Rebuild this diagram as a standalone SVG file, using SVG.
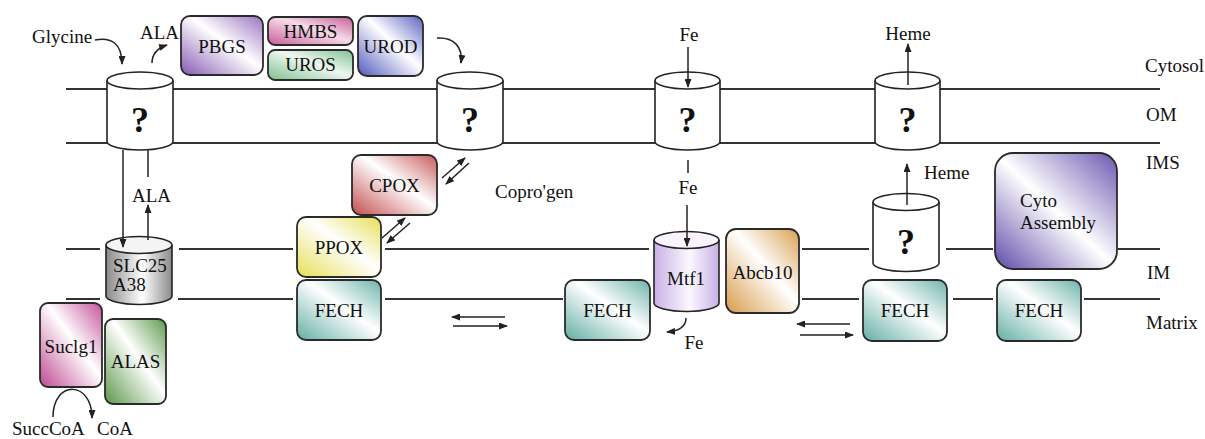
<svg xmlns="http://www.w3.org/2000/svg" width="1205" height="439" viewBox="0 0 1205 439">
<defs>
<style>
text{font-family:"Liberation Serif","Times New Roman",serif;font-size:19px;fill:#111}
.c{text-anchor:middle}
.q{font-size:36px;font-weight:bold;text-anchor:middle}
.mem{stroke:#333;stroke-width:2.2;fill:none}
.box{stroke:#2a2a2a;stroke-width:1.8}
.cyl{stroke:#222;stroke-width:1.6;fill:#fff}
.ln{stroke:#222;stroke-width:1.5;fill:none}
.ar{stroke:#222;stroke-width:1.5;fill:none;marker-end:url(#ah)}
</style>
<marker id="ah" markerUnits="userSpaceOnUse" markerWidth="9" markerHeight="7" refX="8" refY="3.5" orient="auto">
<path d="M0,0 L9,3.5 L0,7 z" fill="#222"/>
</marker>
<linearGradient id="gPur" x1="0" y1="1" x2="1" y2="0"><stop offset="0" stop-color="#8558b0"/><stop offset="0.55" stop-color="#fff"/><stop offset="1" stop-color="#9a72c0"/></linearGradient>
<linearGradient id="gPink" x1="0" y1="1" x2="1" y2="0"><stop offset="0" stop-color="#c65a96"/><stop offset="0.55" stop-color="#f5dbe8"/><stop offset="1" stop-color="#c65a96"/></linearGradient>
<linearGradient id="gLgreen" x1="0" y1="1" x2="1" y2="0"><stop offset="0" stop-color="#7dbf90"/><stop offset="0.55" stop-color="#eef7f0"/><stop offset="1" stop-color="#7dbf90"/></linearGradient>
<linearGradient id="gBlue" x1="0" y1="1" x2="1" y2="0"><stop offset="0" stop-color="#5058bd"/><stop offset="0.55" stop-color="#fff"/><stop offset="1" stop-color="#5a62c2"/></linearGradient>
<linearGradient id="gRed" x1="0" y1="1" x2="1" y2="0"><stop offset="0" stop-color="#c24a4c"/><stop offset="0.55" stop-color="#fff"/><stop offset="1" stop-color="#c65a5a"/></linearGradient>
<linearGradient id="gYel" x1="0" y1="1" x2="1" y2="0"><stop offset="0" stop-color="#e6df55"/><stop offset="0.55" stop-color="#fff"/><stop offset="1" stop-color="#e6df55"/></linearGradient>
<linearGradient id="gTeal" x1="0" y1="1" x2="1" y2="0"><stop offset="0" stop-color="#62aea4"/><stop offset="0.55" stop-color="#fff"/><stop offset="1" stop-color="#6cb4aa"/></linearGradient>
<linearGradient id="gOr" x1="0" y1="1" x2="1" y2="0"><stop offset="0" stop-color="#d89b48"/><stop offset="0.55" stop-color="#fff"/><stop offset="1" stop-color="#d9a050"/></linearGradient>
<linearGradient id="gCyto" x1="0" y1="1" x2="1" y2="0"><stop offset="0" stop-color="#5e4aa8"/><stop offset="0.5" stop-color="#fff"/><stop offset="1" stop-color="#6a56b0"/></linearGradient>
<linearGradient id="gMag" x1="0" y1="1" x2="1" y2="0"><stop offset="0" stop-color="#bf4892"/><stop offset="0.55" stop-color="#fff"/><stop offset="1" stop-color="#c4529a"/></linearGradient>
<linearGradient id="gGreen" x1="0" y1="1" x2="1" y2="0"><stop offset="0" stop-color="#5a9648"/><stop offset="0.55" stop-color="#fff"/><stop offset="1" stop-color="#5e9a4e"/></linearGradient>
<linearGradient id="gGray" x1="0" y1="0" x2="1" y2="0"><stop offset="0" stop-color="#8a8a8a"/><stop offset="0.55" stop-color="#fff"/><stop offset="1" stop-color="#8a8a8a"/></linearGradient>
<linearGradient id="gLav" x1="0" y1="0" x2="1" y2="0"><stop offset="0" stop-color="#c8b0e6"/><stop offset="0.55" stop-color="#fbf8fe"/><stop offset="1" stop-color="#c8b0e6"/></linearGradient>
</defs>
<rect width="1205" height="439" fill="#fff"/>

<g id="membranes">
<path class="mem" d="M66,89H107M173,89H437M503,89H655M720,89H875M940,89H1160"/>
<path class="mem" d="M66,143H107M173,143H437M503,143H655M720,143H875M940,143H1160"/>
<path class="mem" d="M66,249H100M179,249H293M385,249H649M802,249H869M946,249H993M1118,249H1160"/>
<path class="mem" d="M66,299H100M178,299H293M385,299H563M802,299H859M953,299H993M1084,299H1160"/>
</g>

<g id="compartment-labels">
<text x="1145" y="72">Cytosol</text>
<text x="1146" y="121">OM</text>
<text x="1146" y="169">IMS</text>
<text x="1147" y="279">IM</text>
<text x="1146" y="329">Matrix</text>
</g>

<g id="om-transporter-1">
<path class="cyl" d="M107,80.5V141.5A33,8.5 0 0 0 173,141.5V80.5"/>
<ellipse class="cyl" cx="140" cy="80.5" rx="33" ry="8.5"/>
<text class="q" x="140" y="132">?</text>
</g>
<g id="om-transporter-2">
<path class="cyl" d="M437,80.5V141.5A33,8.5 0 0 0 503,141.5V80.5"/>
<ellipse class="cyl" cx="470" cy="80.5" rx="33" ry="8.5"/>
<text class="q" x="470" y="132">?</text>
</g>
<g id="om-transporter-3">
<path class="cyl" d="M655,80.5V141.5A32.5,8.5 0 0 0 720,141.5V80.5"/>
<ellipse class="cyl" cx="687.5" cy="80.5" rx="32.5" ry="8.5"/>
<text class="q" x="687.5" y="132">?</text>
</g>
<g id="om-transporter-4">
<path class="cyl" d="M875,80.5V141.5A32.5,8.5 0 0 0 940,141.5V80.5"/>
<ellipse class="cyl" cx="907.5" cy="80.5" rx="32.5" ry="8.5"/>
<text class="q" x="907.5" y="132">?</text>
</g>
<g id="im-transporter">
<path class="cyl" d="M873,202V263A33,8.5 0 0 0 939,263V202"/>
<ellipse class="cyl" cx="906" cy="202" rx="33" ry="8.5"/>
<text class="q" x="906" y="254">?</text>
</g>
<g id="slc25a38">
<path class="cyl" style="fill:url(#gGray)" d="M106,245V296A33,8.5 0 0 0 172,296V245"/>
<ellipse class="cyl" cx="139" cy="245" rx="33" ry="8.5" style="fill:#f4f4f4"/>
<text x="113" y="272">SLC25</text>
<text x="113" y="291">A38</text>
</g>
<g id="mtf1">
<path class="cyl" style="fill:url(#gLav)" d="M654,240V303A32.5,8.5 0 0 0 719,303V240"/>
<ellipse class="cyl" cx="686.5" cy="240" rx="32.5" ry="8.5" style="fill:#f8f3fd"/>
<text class="c" x="686" y="285">Mtf1</text>
</g>

<g id="pbgs"><rect class="box" x="181" y="16" width="82" height="59" rx="9" fill="url(#gPur)"/><text class="c" x="222" y="53">PBGS</text></g>
<g id="hmbs"><rect class="box" x="268" y="17" width="85" height="28" rx="7" fill="url(#gPink)"/><text class="c" x="310.5" y="38">HMBS</text></g>
<g id="uros"><rect class="box" x="268" y="50" width="85" height="30" rx="7" fill="url(#gLgreen)"/><text class="c" x="310.5" y="71">UROS</text></g>
<g id="urod"><rect class="box" x="358" y="16" width="65" height="60" rx="9" fill="url(#gBlue)"/><text class="c" x="390.5" y="53">UROD</text></g>
<g id="cpox"><rect class="box" x="352" y="155" width="85" height="60" rx="9" fill="url(#gRed)"/><text class="c" x="394.5" y="192">CPOX</text></g>
<g id="ppox"><rect class="box" x="297" y="217" width="84" height="60" rx="9" fill="url(#gYel)"/><text class="c" x="339" y="254">PPOX</text></g>
<g id="fech-1"><rect class="box" x="297" y="280" width="84" height="60" rx="9" fill="url(#gTeal)"/><text class="c" x="339" y="317">FECH</text></g>
<g id="fech-2"><rect class="box" x="565" y="280" width="85" height="60" rx="9" fill="url(#gTeal)"/><text class="c" x="607.5" y="317">FECH</text></g>
<g id="abcb10"><rect class="box" x="726" y="229" width="73" height="84" rx="10" fill="url(#gOr)"/><text class="c" x="762.5" y="279">Abcb10</text></g>
<g id="fech-3"><rect class="box" x="863" y="280" width="84" height="61" rx="9" fill="url(#gTeal)"/><text class="c" x="905" y="317">FECH</text></g>
<g id="fech-4"><rect class="box" x="997" y="280" width="84" height="61" rx="9" fill="url(#gTeal)"/><text class="c" x="1039" y="317">FECH</text></g>
<g id="cyto-assembly"><rect class="box" x="995" y="153" width="122" height="116" rx="18" fill="url(#gCyto)"/><text x="1020" y="207">Cyto</text><text x="1020" y="229">Assembly</text></g>
<g id="suclg1"><rect class="box" x="40" y="303" width="62" height="84" rx="8" fill="url(#gMag)"/><text class="c" x="71" y="353">Suclg1</text></g>
<g id="alas"><rect class="box" x="105" y="319" width="61" height="85" rx="8" fill="url(#gGreen)"/><text class="c" x="135.5" y="368">ALAS</text></g>

<g id="metabolite-labels">
<text x="32" y="43">Glycine</text>
<text x="140" y="39">ALA</text>
<text x="132" y="202">ALA</text>
<text x="495" y="198">Copro'gen</text>
<text class="c" x="689" y="41">Fe</text>
<text class="c" x="688" y="194">Fe</text>
<text class="c" x="694" y="349">Fe</text>
<text class="c" x="908" y="40">Heme</text>
<text x="924" y="179">Heme</text>
<text x="12" y="435">SuccCoA</text>
<text x="97" y="435">CoA</text>
</g>

<g id="connectors">
<path class="ar" d="M95,40C111,37 122,43 122,64"/>
<path class="ar" d="M152,63C152,54 158,48 167,45"/>
<path class="ar" d="M437,38C454,37 463,47 461,63"/>
<path class="ar" d="M123,150V247"/>
<path class="ln" d="M148,150V177"/>
<path class="ar" d="M148,240V205"/>
<path class="ar" d="M688,47V87"/>
<path class="ln" d="M688,160V173"/>
<path class="ar" d="M687,205V246"/>
<path class="ar" d="M686,318C686,326 680,331 667,332"/>
<path class="ar" d="M908,85V44"/>
<path class="ar" d="M907,205V164"/>
<path class="ar" d="M53,417C53,380 92,380 92,418"/>
<path class="ar" d="M442,178L465,158"/>
<path class="ar" d="M469,163L446,184"/>
<path class="ar" d="M382,238L405,218"/>
<path class="ar" d="M410,223L387,243"/>
<path class="ar" d="M505,317H452"/>
<path class="ar" d="M453,326H507"/>
<path class="ar" d="M850,324H797"/>
<path class="ar" d="M800,335H853"/>
</g>
</svg>
